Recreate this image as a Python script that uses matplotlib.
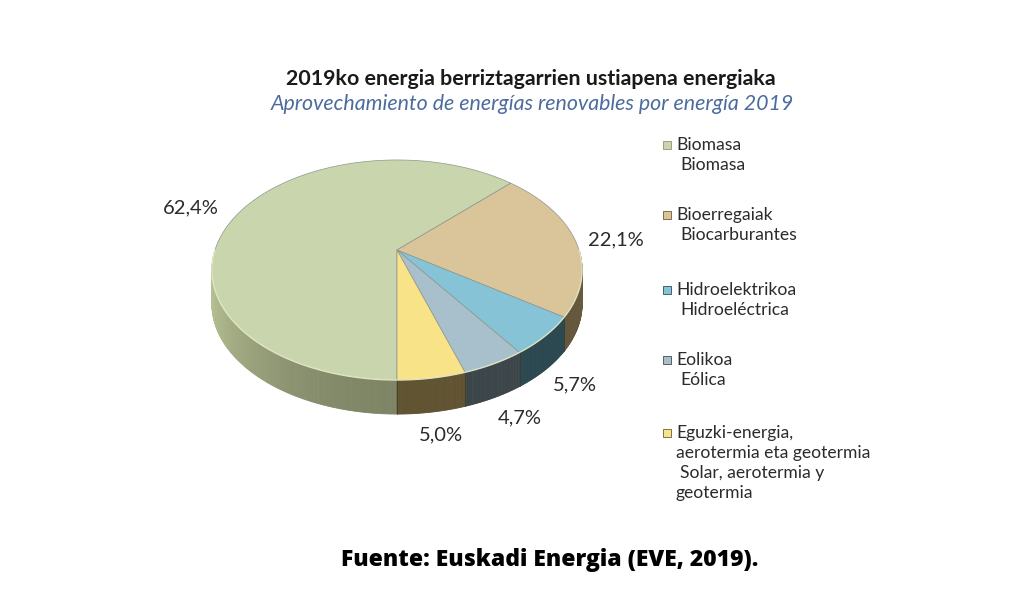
import numpy as np
import matplotlib
matplotlib.use("Agg")
import matplotlib.pyplot as plt
from matplotlib.patches import Polygon, Rectangle
from matplotlib.colors import to_rgb

# data
names_eu = ["Biomasa", "Bioerregaiak", "Hidroelektrikoa", "Eolikoa",
            "Eguzki-energia,\naerotermia eta geotermia"]
names_es = ["Biomasa", "Biocarburantes", "Hidroeléctrica", "Eólica",
            "Solar, aerotermia y\ngeotermia"]
shares = [62.4, 22.1, 5.7, 4.7, 5.0]
labels = ["62,4%", "22,1%", "5,7%", "4,7%", "5,0%"]

top_colors = ["#c9d6ad", "#dac49a", "#86c3d6", "#a8c0cb", "#f9e388"]
side_colors = ["#8c9471", "#6a5c3f", "#2f4d56", "#424c50", "#6b5c37"]

# pie geometry (pixel space), simple perspective of a disc
cx, cy = 397, 250
a, b, k = 182.0, 106.4, 0.1818
depth = 34


def proj(t_deg):
    t = np.radians(t_deg)
    u, v = np.cos(t), np.sin(t)
    den = 1 + k * v
    return cx + a * u / den, cy - b * v / den


fig = plt.figure(figsize=(10.24, 5.99), dpi=100)
ax = fig.add_axes([0, 0, 1, 1])
ax.set_xlim(0, 1024)
ax.set_ylim(599, 0)
ax.axis("off")

fracs = np.array(shares) / sum(shares)
ends = 270 - np.cumsum(fracs) * 360
starts = np.r_[270, ends[:-1]]

# side faces (front half only)
for i in range(len(shares)):
    lo_m, hi_m = ends[i] % 360, starts[i] % 360
    if hi_m <= lo_m:
        hi_m += 360
    s0, s1 = max(lo_m, 180), min(hi_m, 360)
    if s1 <= s0:
        continue
    edges = np.linspace(s0, s1, int((s1 - s0) * 2) + 2)
    base = np.array(to_rgb(side_colors[i]))
    for j in range(len(edges) - 1):
        t0, t1 = edges[j], edges[j + 1]
        tm = 0.5 * (t0 + t1)
        # lighter toward the left edge of the disc
        f = 1.0 + 0.35 * max(0, np.cos(np.radians(tm - 180))) ** 2 - 0.1 * max(0, np.sin(np.radians(tm - 180)))
        col = np.clip(base * f, 0, 1)
        x0, y0 = proj(t0)
        x1, y1 = proj(t1)
        ax.add_patch(Polygon([(x0, y0), (x1, y1), (x1, y1 + depth), (x0, y0 + depth)],
                             closed=True, facecolor=col, edgecolor=col, lw=0.6))
    for t in (s0, s1):
        if 180 < t < 360:
            x, y = proj(t)
            ax.plot([x, x], [y, y + depth], color="#3a3a30", lw=0.5, alpha=0.6)

# top faces
for i in range(len(shares)):
    ts = np.linspace(starts[i], ends[i], 200)
    pts = [(cx, cy)] + [proj(t) for t in ts]
    ax.add_patch(Polygon(pts, closed=True, facecolor=top_colors[i],
                         edgecolor="#8d968c", lw=0.5))

# rim highlight
ts = np.linspace(180, 360, 300)
rim = np.array([proj(t) for t in ts])
ax.plot(rim[:, 0], rim[:, 1], color="#f2f6d0", lw=1.0, alpha=0.8)

# value labels
label_pos = [(191, 208), (616, 240), (575, 385), (520, 418), (441, 435)]
for (lx, ly), txt in zip(label_pos, labels):
    ax.text(lx, ly, txt, ha="center", va="center", fontsize=14.5,
            family="Lato", color="#2b2b2b")

# titles
ax.text(531, 79, "2019ko energia berriztagarrien ustiapena energiaka",
        ha="center", va="center", fontsize=15.4, family="Lato",
        fontweight="bold", color="#1a1a1a")
ax.text(532, 104, "Aprovechamiento de energías renovables por energía 2019",
        ha="center", va="center", fontsize=15.4, family="Lato",
        style="italic", color="#4c6b9e")

# legend
leg_y = [145, 215, 290, 360, 433]
for i, y0 in enumerate(leg_y):
    ax.add_patch(Rectangle((663, y0 - 4), 8, 8, facecolor=top_colors[i],
                           edgecolor=side_colors[i], lw=0.6))
    lines = [(676, l) for l in names_eu[i].split("\n")]
    es = names_es[i].split("\n")
    lines += [(680, es[0])] + [(676, l) for l in es[1:]]
    for n, (lx, txt) in enumerate(lines):
        ax.text(lx, y0 + n * 20, txt, ha="left", va="center", fontsize=12.6,
                family="Lato", color="#2b2b2b")

# source
ax.text(550, 560, "Fuente: Euskadi Energia (EVE, 2019).", ha="center",
        va="center", fontsize=16.5, family="Open Sans", fontweight="heavy",
        color="black")

fig.savefig("out.png", dpi=100)
